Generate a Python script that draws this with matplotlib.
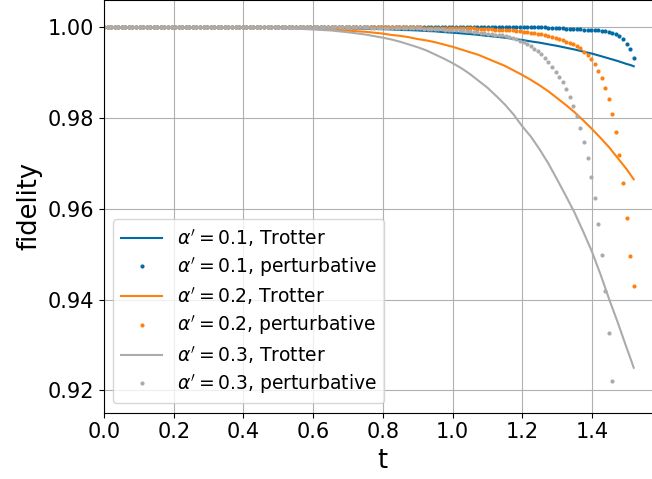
import numpy as np
import matplotlib
matplotlib.use("Agg")
import matplotlib.pyplot as plt

plt.style.use("tableau-colorblind10")

# sample grid of the perturbative points
t_pert = np.linspace(0, 1.52, 150)

# tail of each perturbative series (earlier points sit at 1.0)
pert_01_tail = [0.9998, 0.9998, 0.9998, 0.9998, 0.9998,
                0.9997, 0.9997, 0.9997, 0.9996, 0.9996, 0.9995, 0.9995,
                0.9994, 0.9994, 0.9993, 0.9992, 0.9991, 0.9990, 0.9988,
                0.9985, 0.9981, 0.9973, 0.9964, 0.9951, 0.9932]
pert_02_tail = [0.9999, 0.9999, 0.9999, 0.9999, 0.9999, 0.9999, 0.9999, 0.9999, 0.9999, 0.9999,
                0.9998, 0.9998, 0.9998, 0.9998, 0.9998,
                0.9997, 0.9997, 0.9997, 0.9996, 0.9996, 0.9995, 0.9995, 0.9994, 0.9994,
                0.9993, 0.9993, 0.9992, 0.9991, 0.9990, 0.9989, 0.9988, 0.9987, 0.9986,
                0.9985, 0.9983, 0.9981, 0.9979, 0.9977, 0.9974, 0.9971, 0.9968, 0.9965,
                0.9962, 0.9959, 0.9954, 0.9946, 0.9939, 0.9930, 0.9919, 0.9904, 0.9888,
                0.9867, 0.9841, 0.9810, 0.9769, 0.9719, 0.9656, 0.9580, 0.9496, 0.9431]
pert_03_tail = [0.9999, 0.9999, 0.9999, 0.9999, 0.9999, 0.9999, 0.9999, 0.9999, 0.9999, 0.9999,
                0.9998, 0.9998, 0.9998, 0.9998, 0.9998,
                0.9997, 0.9997, 0.9997, 0.9996, 0.9996, 0.9996, 0.9995, 0.9995,
                0.9994, 0.9994, 0.9993, 0.9993, 0.9992, 0.9991, 0.9990, 0.9989, 0.9988,
                0.9987, 0.9986, 0.9985, 0.9984, 0.9983, 0.9982, 0.9980, 0.9978, 0.9976,
                0.9973, 0.9970, 0.9967, 0.9963, 0.9958, 0.9953, 0.9947, 0.9940, 0.9932,
                0.9923, 0.9913, 0.9902, 0.9891, 0.9879, 0.9863, 0.9847, 0.9827, 0.9804,
                0.9778, 0.9748, 0.9713, 0.9671, 0.9623, 0.9566, 0.9498, 0.9420, 0.9326,
                0.9220]

pert_01 = [1.0] * (150 - len(pert_01_tail)) + pert_01_tail
pert_02 = [1.0] * (150 - len(pert_02_tail)) + pert_02_tail
pert_03 = [1.0] * (144 - len(pert_03_tail)) + pert_03_tail

# Trotter curves
t_trot = [0.0, 0.05, 0.1, 0.15, 0.2, 0.25, 0.3, 0.35, 0.4, 0.45, 0.5, 0.55,
          0.6, 0.65, 0.7, 0.75, 0.8, 0.825, 0.85, 0.875, 0.9, 0.925, 0.95, 0.975,
          1.0, 1.025, 1.05, 1.075, 1.1, 1.125, 1.15, 1.175, 1.2, 1.225, 1.25, 1.275,
          1.3, 1.325, 1.35, 1.375, 1.4, 1.425, 1.45, 1.475, 1.5, 1.51, 1.52]
trot_01 = [1.0, 1.0, 1.0, 1.0, 1.0, 1.0, 1.0, 1.0, 1.0, 1.0, 0.99995, 0.99992,
           0.9999, 0.99985, 0.9998, 0.9997, 0.9996, 0.99951, 0.9994, 0.99936, 0.9993, 0.99917, 0.9991, 0.99893,
           0.9988, 0.99865, 0.9985, 0.99831, 0.9981, 0.99791, 0.9977, 0.99744, 0.9972, 0.99688, 0.9966, 0.99624,
           0.9959, 0.9955, 0.9951, 0.99464, 0.9942, 0.99366, 0.9931, 0.99254, 0.9919, 0.9917, 0.9914]
trot_02 = [1.0, 1.0, 1.0, 1.0, 1.0, 1.0, 1.0, 0.99998, 0.99995, 0.9999, 0.99986, 0.9998,
           0.99965, 0.9995, 0.99925, 0.9990, 0.9986, 0.9983, 0.9981, 0.9978, 0.9974, 0.9971, 0.9967, 0.9962,
           0.9957, 0.9951, 0.9945, 0.9939, 0.9931, 0.9923, 0.9915, 0.9905, 0.9895, 0.9884, 0.9872, 0.9859,
           0.9844, 0.9829, 0.9813, 0.9795, 0.9776, 0.9756, 0.9735, 0.9711, 0.9687, 0.9676, 0.9665]
trot_03 = [1.0, 1.0, 1.0, 1.0, 1.0, 1.0, 0.99999, 0.99998, 0.99995, 0.9999, 0.9998, 0.9997,
           0.9995, 0.9993, 0.9989, 0.9984, 0.9977, 0.9973, 0.9968, 0.9962, 0.9956, 0.9949, 0.9940, 0.9931,
           0.9921, 0.9910, 0.9897, 0.9882, 0.9867, 0.9849, 0.9830, 0.9808, 0.9782, 0.9759, 0.9731, 0.9700,
           0.9665, 0.9629, 0.9592, 0.9550, 0.9506, 0.9455, 0.9400, 0.9348, 0.9293, 0.9272, 0.9250]

fig = plt.figure(figsize=(6.52, 4.79), dpi=100)
ax = fig.add_axes([104 / 652, 66.3 / 479, 1.596 * 348.5 / 652, 412.7 / 479])

ax.plot(t_trot, trot_01, color="#006BA4", label=r"$\alpha' = 0.1$, Trotter")
ax.plot(t_pert, pert_01, "o", color="#006BA4", ms=3, mew=0, label=r"$\alpha' = 0.1$, perturbative")
ax.plot(t_trot, trot_02, color="#FF800E", label=r"$\alpha' = 0.2$, Trotter")
ax.plot(t_pert, pert_02, "o", color="#FF800E", ms=3, mew=0, label=r"$\alpha' = 0.2$, perturbative")
ax.plot(t_trot, trot_03, color="#ABABAB", label=r"$\alpha' = 0.3$, Trotter")
ax.plot(t_pert[:144], pert_03, "o", color="#ABABAB", ms=3, mew=0, label=r"$\alpha' = 0.3$, perturbative")

ax.set_xlim(0, 1.596)
ax.set_ylim(0.9151, 1.0060)
ax.set_xticks([0.0, 0.2, 0.4, 0.6, 0.8, 1.0, 1.2, 1.4])
ax.set_yticks([0.92, 0.94, 0.96, 0.98, 1.00])
ax.set_yticklabels(["0.92", "0.94", "0.96", "0.98", "1.00"])
ax.tick_params(labelsize=15)
ax.grid(True)
ax.set_xlabel("t", fontsize=18.5)
ax.set_ylabel("fidelity", fontsize=18.5)
ax.legend(loc="lower left", fontsize=13.5, labelspacing=0.33, handlelength=2.2)

fig.savefig("out.png", dpi=100)
